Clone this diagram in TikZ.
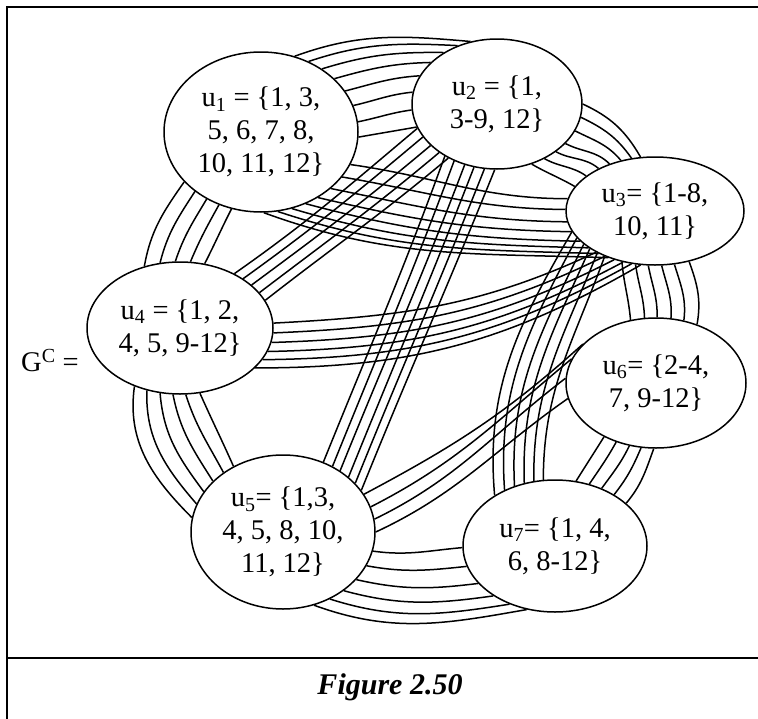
\documentclass[tikz,border=0pt]{standalone}
\usepackage{fontspec}
\setmainfont{Liberation Serif}
\usetikzlibrary{shapes.geometric}
\pgfdeclarelayer{bg}
\pgfsetlayers{bg,main}
\begin{document}
\begin{tikzpicture}[x=1pt,y=1pt,
  vtx/.style={draw, ellipse, line width=1.5pt, fill=white, inner sep=0pt, align=center,
              font=\fontsize{28.5}{33}\selectfont},
  edge/.style={line width=1.5pt},
  frame/.style={line width=2pt}]
\useasboundingbox (0,0) rectangle (758,-718);
\draw[frame] (7,-725) -- (7,-7) -- (765,-7);
\draw[frame] (7,-658) -- (765,-658);
\node[vtx, minimum width=194pt, minimum height=160pt] (u1) at (261,-132) {u\textsubscript{1} = \{1, 3,\\5, 6, 7, 8,\\10, 11, 12\}};
\node[vtx, minimum width=170pt, minimum height=130pt] (u2) at (497,-104) {u\textsubscript{2} = \{1,\\3-9, 12\}};
\node[vtx, minimum width=178pt, minimum height=108pt] (u3) at (655,-211) {u\textsubscript{3}= \{1-8,\\10, 11\}};
\node[vtx, minimum width=186pt, minimum height=132pt] (u4) at (180,-328) {u\textsubscript{4} = \{1, 2,\\4, 5, 9-12\}};
\node[vtx, minimum width=184pt, minimum height=154pt] (u5) at (283,-532) {u\textsubscript{5}= \{1,3,\\4, 5, 8, 10,\\11, 12\}};
\node[vtx, minimum width=180pt, minimum height=130pt] (u6) at (656,-383) {u\textsubscript{6}= \{2-4,\\7, 9-12\}};
\node[vtx, minimum width=184pt, minimum height=132pt] (u7) at (555,-546) {u\textsubscript{7}= \{1, 4,\\6, 8-12\}};
\node[font=\fontsize{28.5}{33}\selectfont] (gc) at (50,-361) {G\textsuperscript{C} =};
\node[font=\fontsize{30}{34}\selectfont\bfseries\itshape] (cap) at (390,-687) {Figure 2.50};
\begin{pgfonlayer}{bg}
\foreach \a/\as/\ae/\b/\bs/\be/\n/\os/\oe/\is/\ie in {
  u1/66/-3/u2/113/196/8/20/10/175/190,
  u1/-20/-88/u3/172/225/8/-8/-20/180/178,
  u1/213/249/u4/120/69/5/235/243/80/63,
  u2/0/-60/u3/105/163/7/-25/-30/120/150,
  u2/197/228/u4/45/18/5/220/220/35/38,
  u2/225/268/u5/60/28/6/250/248/68/68,
  u4/3/-28/u3/215/255/6/3/0/205/210,
  u3/237/304/u6/112/55/6/275/290/95/80,
  u3/194/222/u7/140/100/6/240/250/95/90,
  u4/232/287/u5/171/127/6/262/294/135/114,
  u5/25/0/u6/152/190/4/28/25/222/215,
  u5/-12/-67/u7/181/246/6/-8/-20/185/190,
  u6/226/268/u7/72/31/5/238/250/58/50}
{
  \foreach \k in {1,...,\n}{
    \pgfmathsetmacro\myt{(\k-1)/(\n-1)}
    \pgfmathtruncatemacro\mA{\as+\myt*(\ae-\as)}
    \pgfmathtruncatemacro\mB{\bs+\myt*(\be-\bs)}
    \pgfmathsetmacro\mO{\os+\myt*(\oe-\os)}
    \pgfmathsetmacro\mI{\is+\myt*(\ie-\is)}
    \draw[edge] (\a.\mA) to[out=\mO,in=\mI] (\b.\mB);
  }
}
\end{pgfonlayer}
\end{tikzpicture}
\end{document}
